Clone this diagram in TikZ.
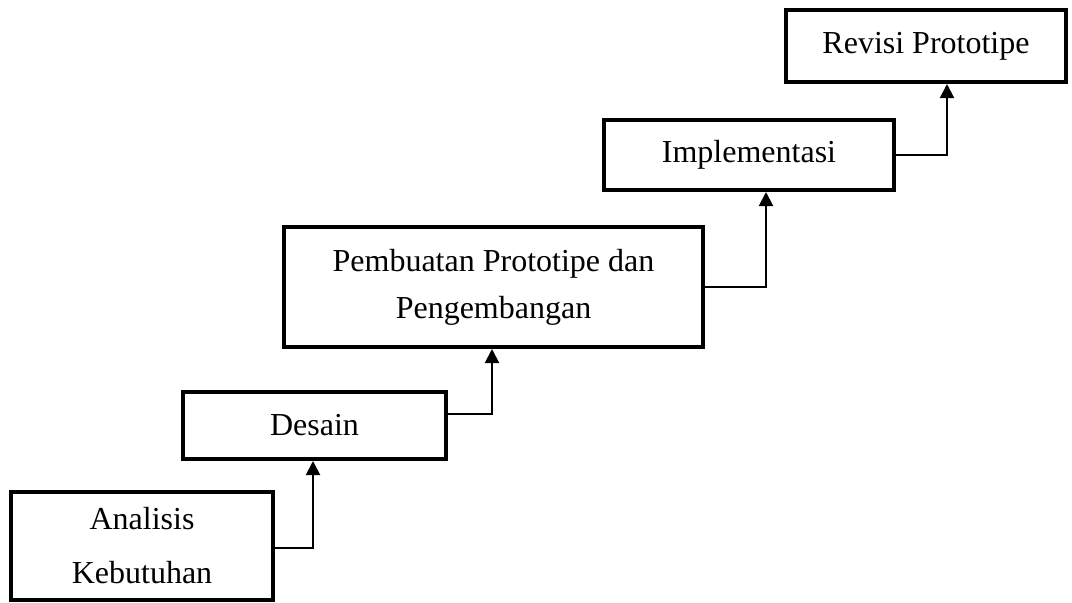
\documentclass[tikz,border=0pt]{standalone}
\usepackage{fontspec}
\setmainfont{Liberation Serif}
\usetikzlibrary{arrows.meta}
\begin{document}
\begin{tikzpicture}[x=1pt,y=-1pt,
  box/.style={draw, line width=4pt, rectangle, inner sep=0pt, align=center,
    font=\fontsize{32}{54}\selectfont},
  conn/.style={draw, line width=2pt, -{Triangle[length=14pt,width=14pt]}}]
\useasboundingbox (0,0) rectangle (1072,603);
\node[box, minimum width=262, minimum height=108] (A) at (142,546) {Analisis\\Kebutuhan};
\node[box, minimum width=263, minimum height=67] (D) at (314.5,425.5) {Desain};
\node[box, minimum width=419, minimum height=120, font=\fontsize{32}{47}\selectfont] (P) at (493.5,287) {Pembuatan Prototipe dan\\Pengembangan};
\node[box, minimum width=290, minimum height=70] (I) at (749,155) {Implementasi};
\node[box, minimum width=280, minimum height=72] (R) at (926,46) {Revisi Prototipe};
\draw[conn] ([yshift=-2pt]A.east) -| ([xshift=-1.5pt]D.south);
\draw[conn] ([yshift=12pt]D.east) -| ([xshift=-1.5pt]P.south);
\draw[conn] (P.east) -| ([xshift=17pt]I.south);
\draw[conn] (I.east) -| ([xshift=21pt]R.south);
\end{tikzpicture}
\end{document}
